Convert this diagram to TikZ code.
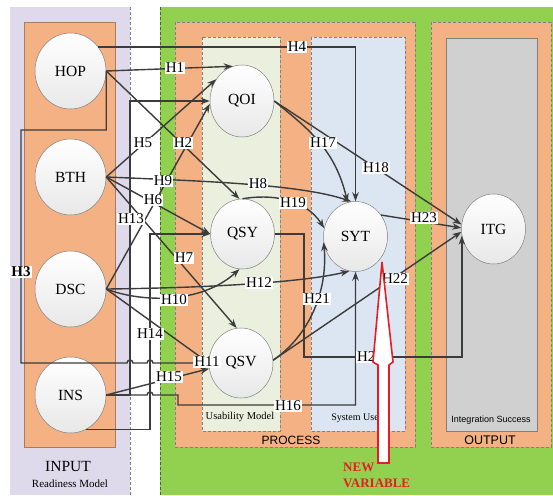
\documentclass[tikz,border=0pt]{standalone}
\usepackage{fontspec}
\setmainfont{Liberation Serif}
\setsansfont{Liberation Sans}
\usetikzlibrary{arrows.meta, shapes.geometric}
\definecolor{panelpurple}{RGB}{222,218,235}
\definecolor{boxorange}{RGB}{244,177,131}
\definecolor{panelgreen}{RGB}{146,208,80}
\definecolor{usegreen}{RGB}{235,240,222}
\definecolor{useblue}{RGB}{220,230,242}
\definecolor{outgray}{RGB}{208,208,208}
\definecolor{linkgray}{RGB}{60,60,60}
\definecolor{newred}{RGB}{228,30,36}

\begin{document}
\begin{tikzpicture}[x=1pt,y=-1pt,
  frame/.style={draw=gray, dash pattern=on 3pt off 2pt, line width=0.6pt},
  var/.style={ellipse, draw=gray, line width=0.5pt, top color=white, bottom color=gray!18, minimum width=64pt, minimum height=70pt, inner sep=0pt, font=\fontsize{15.5}{16}\selectfont},
  invar/.style={var, minimum width=71pt, minimum height=76pt},
  link/.style={draw=linkgray, line width=1.4pt, -{Stealth[length=9pt,width=6.5pt]}},
  hyp/.style={fill=white, inner sep=1pt, font=\fontsize{15}{15}\selectfont}]
\useasboundingbox (0,0) rectangle (553,495);
\fill [panelpurple] (10,7) rectangle (130,495);
\draw [frame] (130,7) -- (130,495);
\fill [panelgreen] (160,7) rectangle (553,495);
\draw [frame, draw=panelgreen!50!black] (160,7) -- (160,495);
\draw [draw=boxorange!70!black, line width=0.6pt, fill=boxorange] (24,22) rectangle (115,447);
\draw [frame, fill=boxorange] (175,22) rectangle (415,447);
\draw [frame, fill=boxorange] (431,22) rectangle (551,447);
\draw [frame, fill=usegreen] (202,37) rectangle (280,431);
\draw [frame, fill=useblue] (311,37) rectangle (405,431);
\draw [draw=gray, line width=0.6pt, fill=outgray] (446,38) rectangle (537,431);

\node (tInput) at (68,466) [font=\fontsize{15.5}{16}\selectfont] {INPUT};
\node (tReady) at (70,484) [font=\fontsize{11}{11}\selectfont] {Readiness Model};
\node (tUsab) at (240,417) [font=\fontsize{10.5}{11}\selectfont] {Usability Model};
\node (tSysUse) at (355,418) [font=\fontsize{10}{10}\selectfont] {System Use};
\node (tInteg) at (491,420) [font=\sffamily\fontsize{9}{9}\selectfont] {Integration Success};
\node (tProcess) at (291,440) [font=\sffamily\fontsize{12}{12}\selectfont] {PROCESS};
\node (tOutput) at (490,440) [font=\sffamily\fontsize{12.5}{13}\selectfont] {OUTPUT};

\node (HOP) at (70.5,71) [invar] {HOP};
\node (BTH) at (70.5,177) [invar] {BTH};
\node (DSC) at (70.5,289) [invar] {DSC};
\node (INS) at (70.5,395) [invar] {INS};
\node (QOI) at (242,101) [var, minimum height=72pt] {QOI};
\node (QSY) at (242.5,234) [var] {QSY};
\node (QSV) at (241,363) [var] {QSV};
\node (SYT) at (355.5,236.5) [var] {SYT};
\node (ITG) at (493.5,229) [var] {ITG};

\coordinate (jH3) at (21,130);
\coordinate (jH13) at (130,101);
\coordinate (jH14) at (150,234);
\coordinate (jH16) at (178,405);
\coordinate (jH20) at (304,357);

\draw [link] (HOP.41) -| (SYT.north);
\draw [link] (HOP.east) -- (QOI.105);
\draw [link] (HOP.east) -- (QSY.95);
\draw [link] (HOP.east) |- (jH3) |- (127,363) arc[start angle=180,end angle=0,radius=3pt] -- (147,363) arc[start angle=180,end angle=0,radius=3pt] -- (QSV.west);
\draw [link] (BTH.east) -- (QOI.140);
\draw [link] (BTH.east) -- (QSY.west);
\draw [link] (BTH.east) -- (QSV.97);
\draw [link] (BTH.east) .. controls (200,181) and (300,184) .. (SYT.97);
\draw [link] (DSC.east) -- (QOI.185);
\draw [link] (DSC.east) .. controls (140,302) and (200,305) .. (QSY.-95);
\draw [link] (DSC.east) -- (QSV.west);
\draw [link] (DSC.east) .. controls (200,288) and (300,283) .. (SYT.-100);
\draw [link] (INS.east) -| (jH13) -- (QOI.west);
\draw [link] (INS.-65) -| (jH14) -- (QSY.west);
\draw [link] (INS.east) -- (QSV.190);
\draw [link] (INS.east) -- (147,395) arc[start angle=180,end angle=0,radius=3pt] -| (jH16) -| (SYT.south);
\draw [link] (QOI.east) .. controls (310,130) and (335,150) .. (SYT.103);
\draw [link] (QOI.east) -- (ITG.172);
\draw [link] (QSY.north) .. controls (270,194) and (305,198) .. (SYT.165);
\draw [link] (QSY.east) -| (jH20) -| (ITG.192);
\draw [link] (QSV.5) .. controls (310,335) and (328,290) .. (SYT.190);
\draw [link] (QSV.5) -- (ITG.185);
\draw [link] (SYT.40) -- (ITG.178);

\node (lH1) at (175,68) [hyp] {H1};
\node (lH2) at (183,143) [hyp] {H2};
\node (lH3) at (21,272) [hyp, font=\fontsize{15}{15}\selectfont\bfseries] {H3};
\node (lH4) at (297,47) [hyp] {H4};
\node (lH5) at (143,143) [hyp] {H5};
\node (lH6) at (153,200) [hyp] {H6};
\node (lH7) at (184,258) [hyp] {H7};
\node (lH8) at (258,184) [hyp] {H8};
\node (lH9) at (163,181) [hyp] {H9};
\node (lH10) at (174,300) [hyp] {H10};
\node (lH11) at (207,362) [hyp] {H11};
\node (lH12) at (259,283) [hyp] {H12};
\node (lH13) at (131,219) [hyp] {H13};
\node (lH14) at (150,334) [hyp] {H14};
\node (lH15) at (169,377) [hyp] {H15};
\node (lH16) at (288,406) [hyp] {H16};
\node (lH17) at (323,143) [hyp] {H17};
\node (lH18) at (376,168) [hyp] {H18};
\node (lH19) at (293,203) [hyp] {H19};
\node (lH20) at (370,357) [hyp] {H20};
\node (lH21) at (317,299) [hyp] {H21};
\node (lH22) at (395,279) [hyp] {H22};
\node (lH23) at (424,218) [hyp] {H23};

\draw [draw=newred, line width=1.6pt, fill=white, line join=miter] (382,262) -- (393,362) -- (389,365) -- (389,463) -- (378,463) -- (378,365) -- (373,362) -- cycle;
\node (tNew) at (343,467) [anchor=west, inner sep=0pt, text=newred, font=\fontsize{13}{13}\selectfont\bfseries] {NEW};
\node (tVariable) at (343,483) [anchor=west, inner sep=0pt, text=newred, font=\fontsize{13}{13}\selectfont\bfseries] {VARIABLE};
\end{tikzpicture}
\end{document}
